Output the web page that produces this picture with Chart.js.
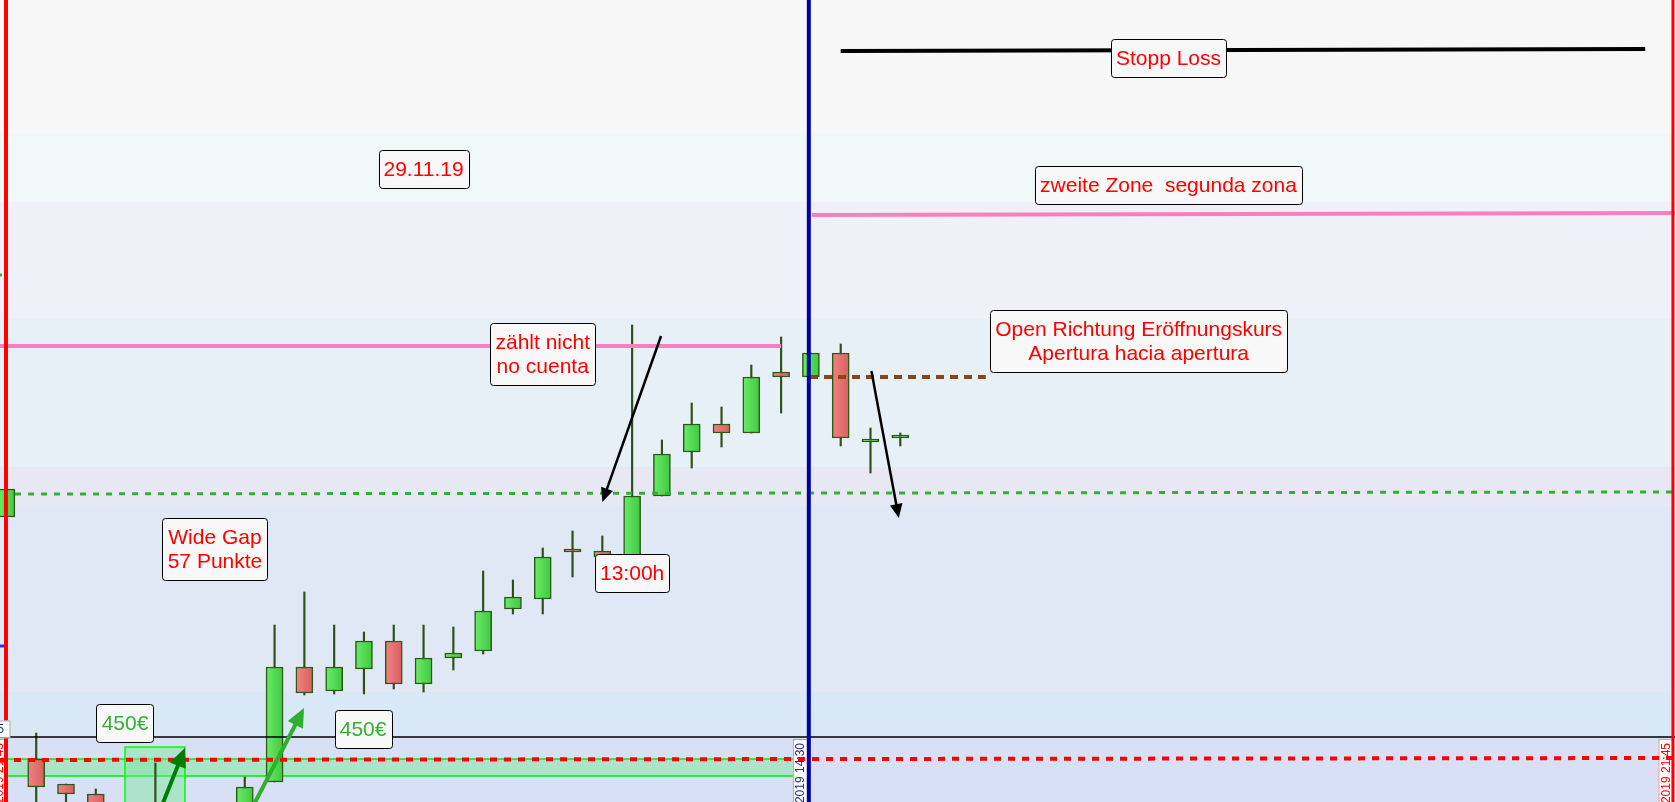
<!DOCTYPE html>
<html>
<head>
<meta charset="utf-8">
<script src="https://cdn.jsdelivr.net/npm/chart.js@4"></script>
<style>
html, body { margin: 0; padding: 0; background: #f7f7f7; overflow: hidden; }
canvas { display: block; }
</style>
</head>
<body>
<canvas id="chart" width="1675" height="802"></canvas>
<script>
// candle number (15 min bars), prices
var candleIdx = [-1, 0, 1, 2, 3, 4, 5, 6, 7, 8, 9, 10, 11, 12, 13, 14, 15, 16, 17, 18, 19, 20, 21, 22, 23, 24, 25, 26, 27, 28, 29];
var openVals  = [13196.6, 13148.2, 13143.2, 13141.2, 13130, 13134, 13132, 13128, 13134, 13143.6, 13166.6, 13161.8, 13166.2, 13171.8, 13163.2, 13168.4, 13169.8, 13178.2, 13180.2, 13190, 13189.8, 13188.8, 13200.8, 13209.6, 13215.2, 13213.4, 13225.6, 13224.6, 13229.4, 13211.6, 13212.4];
var highVals  = [13202.2, 13153.4, 13143.2, 13142.2, 13136, 13147.4, 13135, 13136, 13144.6, 13175, 13181.6, 13175, 13173.6, 13175, 13175, 13174.6, 13185.8, 13184, 13190.4, 13193.8, 13192.8, 13235, 13212, 13219.4, 13218.6, 13227, 13232.6, 13229.4, 13231.2, 13214.4, 13213.4];
var lowVals   = [13196.6, 13138, 13136, 13135, 13128, 13130, 13125, 13126, 13133, 13143.6, 13161, 13161.2, 13161.2, 13162.2, 13161.6, 13166, 13169.2, 13177.2, 13177.2, 13184.6, 13188, 13188.6, 13200.8, 13206.4, 13210.6, 13213.4, 13217.4, 13224.6, 13210.8, 13205.4, 13210.8];
var closeVals = [13202.2, 13142.6, 13141.2, 13137, 13134, 13138, 13128, 13133, 13142.6, 13166.6, 13161.4, 13166.6, 13171.8, 13163.2, 13168.4, 13169.4, 13177.8, 13180.6, 13188.6, 13189.6, 13188.6, 13200.8, 13209.2, 13215.2, 13213.4, 13224.6, 13224.6, 13229.4, 13212.4, 13212, 13213];

var xMin = -1.215, xMax = 55;
var yMin = 13139.6, yMax = 13300;

// background zones (price from / to)
var zoneFrom   = [13273.4, 13259.6, 13236.2, 13206.6, 13199, 13161.6, 13152.6, 13100];
var zoneTo     = [13300, 13273.4, 13259.6, 13236.2, 13206.6, 13199, 13161.6, 13152.6];
var zoneColors = ['#f7f7f7', '#f0f7f7', '#f0f0f8', '#e8f0f7', '#e8e8f5', '#e0e8f5', '#d8e8f7', '#d8e0f5'];

// drawn lines: start/end candle number and price
var lines = [
    {x1: -1.215, x2: 55, y1: 13152.6, y2: 13152.6, color: '#000000', width: 1.5},
    {x1: -1.215, x2: 55, y1: 13148, y2: 13148.4, color: '#ff0000', width: 4, dash: [7, 7]},
    {x1: -0.71, x2: 55, y1: 13201.2, y2: 13201.6, color: '#33b033', width: 3, dash: [6, 7]},
    {x1: -1.215, x2: 25.0, y1: 13230.8, y2: 13230.8, color: '#f77fbe', width: 4},
    {x1: 26.03, x2: 55, y1: 13257, y2: 13257.4, color: '#f77fbe', width: 4},
    {x1: 25.97, x2: 31.87, y1: 13224.6, y2: 13224.6, color: '#8b4513', width: 4, dash: [8, 6]},
    {x1: 27.0, x2: 54.0, y1: 13289.8, y2: 13290.2, color: '#000000', width: 4},
    {x1: -1.215, x2: -1.02, y1: 13170.8, y2: 13170.8, color: '#3030e0', width: 3},
    {x1: -1.215, x2: -1.15, y1: 13245, y2: 13245, color: '#33b033', width: 3}
];
var vlines = [
    {x: -1.014, color: '#ff0000', width: 4},
    {x: 25.93, color: '#0000a8', width: 4},
    {x: 54.93, color: '#ff0000', width: 3}
];
var arrows = [
    {x1: 20.97, y1: 13232.8, x2: 19.0, y2: 13199.6, color: '#000000', width: 2.5, head: 14},
    {x1: 28.03, y1: 13225.8, x2: 28.95, y2: 13196.4, color: '#000000', width: 2.5, head: 14},
    {x1: 4.16, y1: 13138, x2: 4.99, y2: 13150.4, color: '#007c00', width: 4, head: 19},
    {x1: 7.21, y1: 13138, x2: 8.99, y2: 13158.4, color: '#2eb02e', width: 4, head: 19}
];
var notes = [
    {x: 38.0, y: 13288.4, text: ['Stopp Loss'], color: '#ff0000'},
    {x: 38.0, y: 13263, text: ['zweite Zone  segunda zona'], color: '#ff0000'},
    {x: 13.0, y: 13266.1, text: ['29.11.19'], color: '#ff0000'},
    {x: 17.0, y: 13229.2, text: ['zählt nicht', 'no cuenta'], color: '#ff0000'},
    {x: 37.0, y: 13231.7, text: ['Open Richtung Eröffnungskurs', 'Apertura hacia apertura'], color: '#ff0000'},
    {x: 6.0, y: 13190.2, text: ['Wide Gap', '57 Punkte'], color: '#ff0000'},
    {x: 20.0, y: 13185.4, text: ['13:00h'], color: '#ff0000'},
    {x: 2.98, y: 13155.4, text: ['450€'], color: '#33b033'},
    {x: 10.97, y: 13154.2, text: ['450€'], color: '#33b033'}
];
var timeTags = [
    {x: 25.63, y: 13152.2, text: '29.11.2019 14:30', color: '#2a2a8a', border: '#a0a0d8'},
    {x: 54.68, y: 13152.2, text: '29.11.2019 21:45', color: '#ff0000', border: '#ff9090'},
    {x: -1.25, y: 13152.2, text: '28.11.2019 21:45', color: '#ff0000', border: '#ff9090'}
];

var bodies = candleIdx.map(function(k, i) { return {x: k, y: [openVals[i], closeVals[i]]}; });
var wicks = candleIdx.map(function(k, i) { return {x: k, y: [lowVals[i], highVals[i]]}; });

function bodyFill(context) {
    var i = context.dataIndex;
    if (context.type !== 'data' || i === undefined) return '#55dd55';
    var up = closeVals[i] >= openVals[i];
    var flat = up ? '#55dd55' : '#e87070';
    var xs = context.chart.scales.x;
    if (!xs) return flat;
    var px = xs.getPixelForValue(candleIdx[i]);
    if (!isFinite(px)) return flat;
    var g = context.chart.ctx.createLinearGradient(px - 9, 0, px + 9, 0);
    if (up) {
        g.addColorStop(0, '#68ee68');
        g.addColorStop(1, '#40c640');
    } else {
        g.addColorStop(0, '#f48282');
        g.addColorStop(1, '#d65f5f');
    }
    return g;
}

const overlay = {
    id: 'overlay',
    beforeDatasetsDraw(chart) {
        var ctx = chart.ctx, xs = chart.scales.x, ys = chart.scales.y;
        var W = chart.width;
        ctx.save();
        for (let i = 0; i < zoneColors.length; i++) {
            var top = ys.getPixelForValue(zoneTo[i]);
            var bot = ys.getPixelForValue(zoneFrom[i]);
            ctx.fillStyle = zoneColors[i];
            ctx.fillRect(0, Math.round(top), W, Math.round(bot) - Math.round(top));
        }
        // green band and box in lower panel
        ctx.fillStyle = 'rgba(120,230,150,0.45)';
        var bx1 = xs.getPixelForValue(-1.01), bx2 = xs.getPixelForValue(25.4);
        var by1 = ys.getPixelForValue(13148.2), by2 = ys.getPixelForValue(13144.8);
        ctx.fillRect(bx1, by1, bx2 - bx1, by2 - by1);
        ctx.strokeStyle = '#00ee00';
        ctx.lineWidth = 1.5;
        ctx.beginPath();
        ctx.moveTo(bx1, by1); ctx.lineTo(bx2, by1);
        ctx.moveTo(bx1, by2); ctx.lineTo(bx2, by2);
        ctx.stroke();
        var gx1 = xs.getPixelForValue(2.98), gx2 = xs.getPixelForValue(4.99);
        var gy1 = ys.getPixelForValue(13150.6), gy2 = ys.getPixelForValue(13130);
        ctx.fillStyle = 'rgba(120,230,150,0.45)';
        ctx.fillRect(gx1, gy1, gx2 - gx1, gy2 - gy1);
        ctx.strokeStyle = '#00ff00';
        ctx.strokeRect(gx1, gy1, gx2 - gx1, gy2 - gy1);
        ctx.restore();
    },
    afterDatasetsDraw(chart) {
        var ctx = chart.ctx, xs = chart.scales.x, ys = chart.scales.y;
        var H = chart.height;
        ctx.save();

        // time tags at the bottom
        timeTags.forEach(function(t) {
            var cx = xs.getPixelForValue(t.x), ty = ys.getPixelForValue(t.y);
            ctx.fillStyle = '#fafafa';
            ctx.fillRect(cx - 7, ty, 14, H - ty + 5);
            ctx.strokeStyle = t.border;
            ctx.lineWidth = 1;
            ctx.strokeRect(cx - 7 + 0.5, ty + 0.5, 14, H - ty + 5);
            ctx.save();
            ctx.translate(cx + 1, ty + 4);
            ctx.rotate(-Math.PI / 2);
            ctx.font = '12px "Liberation Sans", Arial, sans-serif';
            ctx.fillStyle = t.color;
            ctx.textAlign = 'right';
            ctx.textBaseline = 'middle';
            ctx.fillText(t.text, 0, 0);
            ctx.restore();
        });

        // lines
        lines.forEach(function(l) {
            ctx.beginPath();
            ctx.strokeStyle = l.color;
            ctx.lineWidth = l.width;
            ctx.setLineDash(l.dash || []);
            ctx.moveTo(xs.getPixelForValue(l.x1), ys.getPixelForValue(l.y1));
            ctx.lineTo(xs.getPixelForValue(l.x2), ys.getPixelForValue(l.y2));
            ctx.stroke();
        });
        ctx.setLineDash([]);

        vlines.forEach(function(v) {
            var px = xs.getPixelForValue(v.x);
            ctx.beginPath();
            ctx.strokeStyle = v.color;
            ctx.lineWidth = v.width;
            ctx.moveTo(px, 0);
            ctx.lineTo(px, H);
            ctx.stroke();
        });

        // price tag on the left edge
        var py = ys.getPixelForValue(13154.3);
        var pr = xs.getPixelForValue(-0.88);
        ctx.fillStyle = '#fafafa';
        ctx.fillRect(-20, py - 8, pr + 20, 17);
        ctx.strokeStyle = '#a8a8a8';
        ctx.lineWidth = 1;
        ctx.strokeRect(-20, py - 8 + 0.5, pr + 20, 17);
        ctx.font = '12px "Liberation Sans", Arial, sans-serif';
        ctx.fillStyle = '#1a3a9a';
        ctx.textAlign = 'right';
        ctx.textBaseline = 'middle';
        ctx.fillText('13152.5', pr - 6, py + 1);

        // arrows
        arrows.forEach(function(a) {
            var x1 = xs.getPixelForValue(a.x1), y1 = ys.getPixelForValue(a.y1);
            var x2 = xs.getPixelForValue(a.x2), y2 = ys.getPixelForValue(a.y2);
            var ang = Math.atan2(y2 - y1, x2 - x1);
            var bx = x2 - Math.cos(ang) * a.head * 0.8, by = y2 - Math.sin(ang) * a.head * 0.8;
            ctx.beginPath();
            ctx.strokeStyle = a.color;
            ctx.lineWidth = a.width;
            ctx.moveTo(x1, y1);
            ctx.lineTo(bx, by);
            ctx.stroke();
            var hw = a.head * 0.45;
            var hx = x2 - Math.cos(ang) * a.head, hy = y2 - Math.sin(ang) * a.head;
            ctx.beginPath();
            ctx.fillStyle = a.color;
            ctx.moveTo(x2, y2);
            ctx.lineTo(hx + Math.sin(ang) * hw, hy - Math.cos(ang) * hw);
            ctx.lineTo(hx - Math.sin(ang) * hw, hy + Math.cos(ang) * hw);
            ctx.closePath();
            ctx.fill();
        });

        // text boxes
        ctx.font = '21px "Liberation Sans", Arial, sans-serif';
        notes.forEach(function(n) {
            var cx = xs.getPixelForValue(n.x), cy = ys.getPixelForValue(n.y);
            var w = 0;
            n.text.forEach(function(t) { w = Math.max(w, ctx.measureText(t).width); });
            w = Math.round(w + 10);
            var h = n.text.length * 24 + 14;
            var x0 = Math.round(cx - w / 2) + 0.5, y0 = Math.round(cy - h / 2) + 0.5;
            ctx.beginPath();
            ctx.roundRect(x0, y0, w, h, 3);
            ctx.fillStyle = '#f8f8f8';
            ctx.fill();
            ctx.strokeStyle = '#000000';
            ctx.lineWidth = 1;
            ctx.stroke();
            ctx.fillStyle = n.color;
            ctx.textAlign = 'center';
            ctx.textBaseline = 'middle';
            n.text.forEach(function(t, j) {
                ctx.fillText(t, cx, cy - (n.text.length - 1) * 12 + j * 24 + 1);
            });
        });
        ctx.restore();
    }
};

var chart = new Chart(document.getElementById('chart'), {
    type: 'bar',
    data: {
        datasets: [{
            label: 'body',
            data: bodies,
            backgroundColor: bodyFill,
            borderColor: '#2a5a14',
            borderWidth: 1.5,
            borderSkipped: false,
            barThickness: 17,
            minBarLength: 3,
            grouped: false,
            order: 1
        }, {
            label: 'wick',
            data: wicks,
            backgroundColor: '#2d5016',
            borderWidth: 0,
            barThickness: 1.5,
            grouped: false,
            order: 2
        }]
    },
    options: {
        responsive: false,
        devicePixelRatio: 1,
        animation: false,
        layout: { padding: 0 },
        plugins: {
            legend: { display: false },
            tooltip: { enabled: false }
        },
        scales: {
            x: { type: 'linear', min: xMin, max: xMax, offset: false, display: false },
            y: { type: 'linear', min: yMin, max: yMax, display: false }
        }
    },
    plugins: [overlay]
});
</script>
</body>
</html>
